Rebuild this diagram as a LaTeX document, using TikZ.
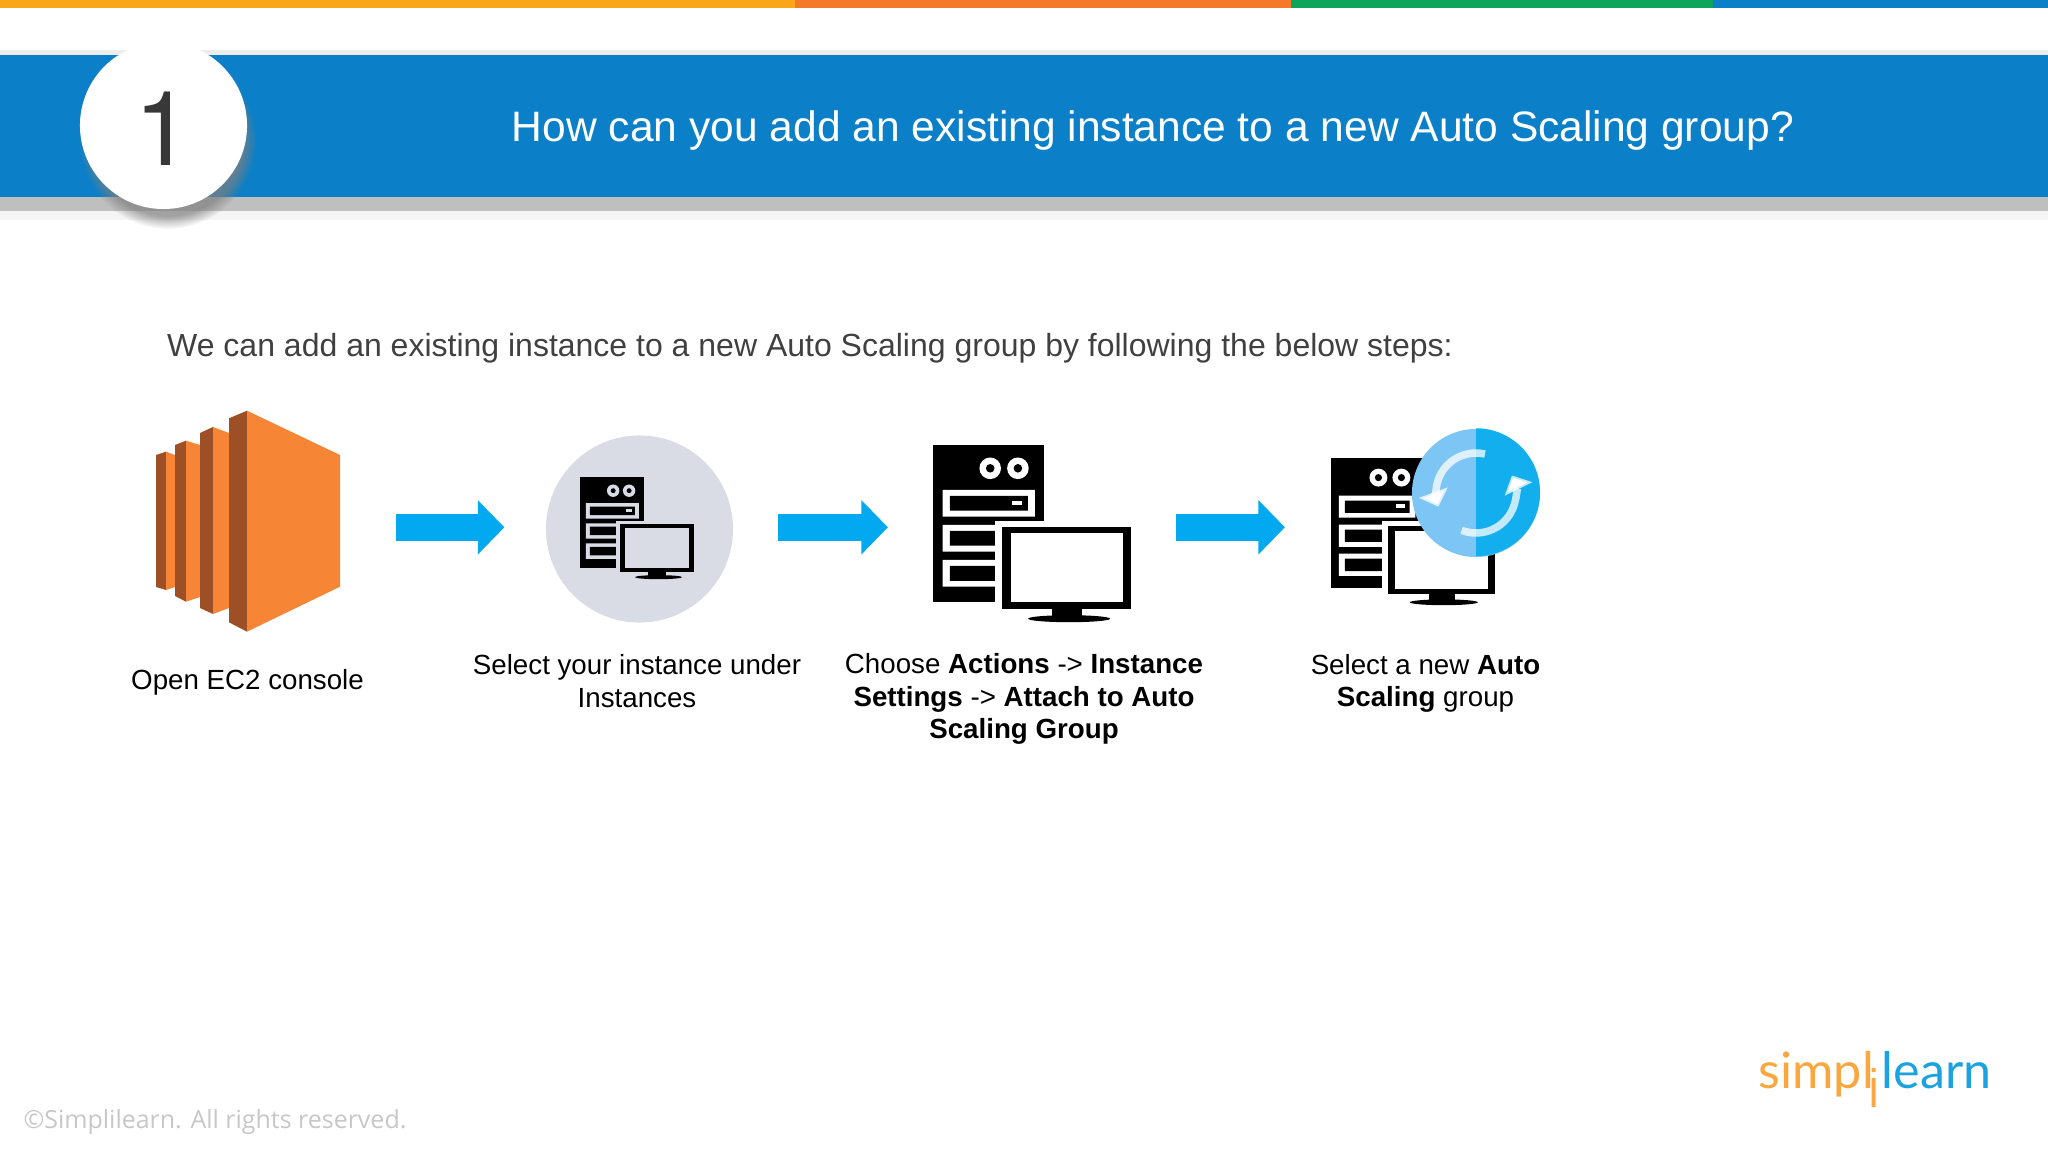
\documentclass[tikz,border=0pt]{standalone}
\usepackage{fontspec}
\setmainfont{Liberation Sans}
\newfontfamily\footfont{Open Sans}
\newfontfamily\logofont{Lato}
\newfontfamily\numfont{TeX Gyre Heros}
\usetikzlibrary{arrows.meta,shadows}
\definecolor{bar_orange}{HTML}{FAA61A}
\definecolor{bar_red}{HTML}{F47A2A}
\definecolor{bar_green}{HTML}{0DA55A}
\definecolor{band_blue}{HTML}{0B7FC7}
\definecolor{ec2_orange}{HTML}{F68536}
\definecolor{ec2_dark}{HTML}{9D5025}
\definecolor{arrow_blue}{HTML}{03A9F0}
\definecolor{inst_grey}{HTML}{D9DCE5}
\definecolor{sync_light}{HTML}{7CC5F5}
\definecolor{sync_dark}{HTML}{12AEEE}
\definecolor{logo_orange}{HTML}{F9A73E}
\definecolor{logo_blue}{HTML}{1BA3E0}
\tikzset{
  pics/server_pc/.style={code={
    \fill[black] (0,0) rectangle (111,157);
    \fill[#1] (57.7,23.3) circle (10.8) (85.4,23.3) circle (10.8);
    \fill[black] (57.7,23.3) circle (4.3) (85.4,23.3) circle (4.3);
    \fill[#1] (10,45) rectangle (102.3,71.7) (10,80) rectangle (102.3,106.7) (10,115) rectangle (102.3,141.7);
    \fill[black] (17.3,51) rectangle (95.4,65.7) (17.3,86) rectangle (95.4,100.7) (17.3,121) rectangle (95.4,136);
    \fill[#1] (79.4,55.7) rectangle (89.8,60.3);
    \fill[#1] (62,76) rectangle (198.6,164);
    \fill[black] (69.4,81.7) rectangle (198.6,164);
    \fill[#1] (78,88.3) rectangle (190.4,157.3);
    \fill[black] (119,164) rectangle (149.8,172);
    \fill[black] (136.6,173.7) ellipse [x radius=41,y radius=3.5];
  }}
}
\begin{document}
\begin{tikzpicture}[x=0.01cm,y=-0.01cm]
  \tikzstyle{title_text}=[font=\fontsize{12.1}{15}\selectfont,text=white,inner sep=0pt]
  \tikzstyle{intro_text}=[font=\fontsize{9.1}{12}\selectfont,text=black!75,inner sep=0pt]
  \tikzstyle{step_label}=[font=\fontsize{7.88}{9.3}\selectfont,align=center,inner sep=0pt]
  \tikzstyle{logo_text}=[font=\logofont\fontsize{14.3}{18}\selectfont,anchor=base west,inner sep=0pt]
  \tikzstyle{icon_slot}=[minimum height=2pt,inner sep=0pt,outer sep=0pt]
  \tikzstyle{block_arrow}=[draw=arrow_blue,line width=0.267cm,-{Triangle[length=2.65mm,width=5.27mm,fill=arrow_blue]}]
  \tikzstyle{sync_arc}=[draw=white,draw opacity=.75,line width=0.075cm,-{Triangle[length=1.5mm,width=3mm,fill=white]}]
  \useasboundingbox (0,0) rectangle (2048,1152);

  \fill[bar_orange] (0,0) rectangle (795,8);
  \fill[bar_red] (795,0) rectangle (1291,8);
  \fill[bar_green] (1291,0) rectangle (1713,8);
  \fill[band_blue] (1713,0) rectangle (2048,8);
  \fill[black!7] (0,50) rectangle (2048,55);
  \fill[band_blue] (0,55) rectangle (2048,197);
  \fill[black!25] (0,197) rectangle (2048,211);
  \fill[black!4] (0,211) rectangle (2048,220);

  \node[circle,fill=white,minimum size=1.67cm,inner sep=0pt,
        circular drop shadow={shadow xshift=.04cm,shadow yshift=-.14cm,shadow scale=1.06,opacity=.7}] (num) at (163.5,125.5) {};
  \node[font=\numfont\fontsize{29.5}{30}\selectfont,text=black!78] (numtext) at (163,128.5) {1};
  \node[title_text] (title) at (1153,131) {How can you add an existing instance to a new Auto Scaling group?};
  \node[intro_text] (intro) at (810,348) {We can add an existing instance to a new Auto Scaling group by following the below steps:};

  \fill[ec2_dark] (156,455) -- (166,451.7) -- (166,590) -- (156,587) -- cycle;
  \fill[ec2_orange] (166,451.7) -- (175,455) -- (175,587) -- (166,590) -- cycle;
  \fill[ec2_dark] (175,445) -- (186,440.7) -- (186,601.7) -- (175,596) -- cycle;
  \fill[ec2_orange] (186,440.7) -- (200,445) -- (200,597) -- (186,601.7) -- cycle;
  \fill[ec2_dark] (200,433) -- (213,427) -- (213,614) -- (200,608) -- cycle;
  \fill[ec2_orange] (213,427) -- (229,433) -- (229,608) -- (213,614) -- cycle;
  \fill[ec2_dark] (229,418.3) -- (247,410.7) -- (247,631.7) -- (229,622.3) -- cycle;
  \fill[ec2_orange] (247,410.7) -- (340,455) -- (340,586.7) -- (247,631.7) -- cycle;

  \node[circle,fill=inst_grey,minimum size=1.87cm,inner sep=0pt] (instcircle) at (639.5,529) {};
  \pic[scale=.575] at (580,477.3) {server_pc={inst_grey}};
  \pic at (932.5,445) {server_pc={white}};
  \pic[scale=.829] at (1330.6,458.3) {server_pc={white}};

  \node[circle,fill=sync_light,minimum size=1.28cm,inner sep=0pt] (sync) at (1476,493) {};
  \fill[sync_dark] (sync.north) arc[start angle=-90,end angle=90,radius=64] -- cycle;
  \draw[sync_arc] ([shift={(-77:40)}]sync.center) arc[start angle=-77,end angle=-200,radius=40];
  \draw[sync_arc] ([shift={(111:40)}]sync.center) arc[start angle=111,end angle=-26,radius=40];

  \node[icon_slot,minimum width=2.96cm] (ec2) at (248,527.3) {};
  \node[icon_slot,minimum width=2.735cm] (inst) at (641.2,527.3) {};
  \node[icon_slot,minimum width=2.88cm] (actions) at (1032,527.3) {};
  \node[icon_slot,minimum width=2.3cm] (asg) at (1400,527.3) {};
  \path (ec2) edge[block_arrow] (inst)
        (inst) edge[block_arrow] (actions)
        (actions) edge[block_arrow] (asg);

  \node[step_label] (ec2label) at (247.5,682.5) {Open EC2 console};
  \node[step_label] (instlabel) at (637,681) {Select your instance under\\Instances};
  \node[step_label] (actionslabel) at (1024,699) {Choose \textbf{Actions} -> \textbf{Instance}\\\textbf{Settings} -> \textbf{Attach to Auto}\\\textbf{Scaling Group}};
  \node[step_label] (asglabel) at (1425.5,683.5) {Select a new \textbf{Auto}\\\textbf{Scaling} group};

  \node[font=\footfont\fontsize{7.1}{9}\selectfont,text=black!22,inner sep=0pt] (copy) at (215,1122) {©Simplilearn. All rights reserved.};
  \node[logo_text,text=logo_orange] (logoa) at (1758,1088) {simpl};
  \node[logo_text,text=logo_blue] (logob) at (1881,1088) {learn};
  \fill[logo_orange] (1871.5,1068) rectangle (1875.5,1072) (1871.5,1078) rectangle (1875.5,1107);
\end{tikzpicture}
\end{document}
